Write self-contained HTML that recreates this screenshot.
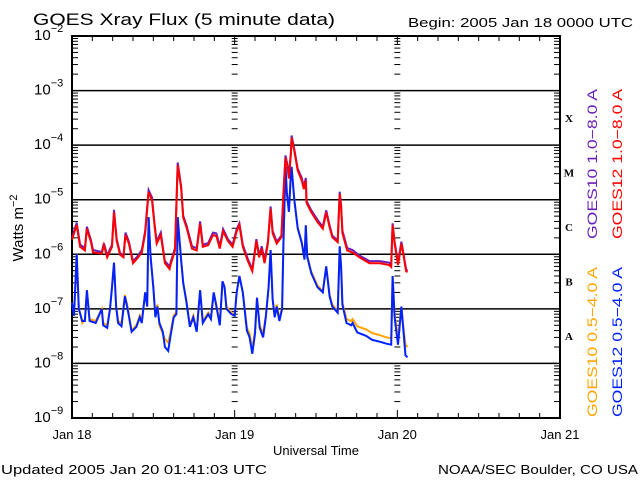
<!DOCTYPE html>
<html><head><meta charset="utf-8"><style>
html,body{margin:0;padding:0;background:#fff;}
svg{display:block;font-family:"Liberation Sans",sans-serif;}
</style></head><body>
<svg id="chart" width="640" height="480" viewBox="0 0 640 480">
<rect width="640" height="480" fill="#fff"/>
<text x="33" y="25" font-size="17" textLength="302" lengthAdjust="spacingAndGlyphs">GOES Xray Flux (5 minute data)</text>
<text x="408" y="27" font-size="13" textLength="225" lengthAdjust="spacingAndGlyphs">Begin:  2005 Jan 18 0000 UTC</text>
<text transform="translate(23,228) rotate(-90)" font-size="15" text-anchor="middle">Watts m<tspan dy="-6" font-size="11">−2</tspan></text>
<text x="316" y="455" font-size="13" text-anchor="middle">Universal Time</text>
<text x="1" y="474" font-size="13" textLength="266" lengthAdjust="spacingAndGlyphs">Updated 2005 Jan 20 01:41:03 UTC</text>
<text x="438" y="474" font-size="13" textLength="200" lengthAdjust="spacingAndGlyphs">NOAA/SEC Boulder, CO USA</text>
<g id="axes"></g>
<g id="series"></g>
<g id="labels"></g>
</svg>
<script>
const dayLabels = ["Jan 18","Jan 19","Jan 20","Jan 21"];
const decadeExps = [-2,-3,-4,-5,-6,-7,-8,-9];
const classLetters = ["X","M","C","B","A"];
const classExps = [-3.5,-4.5,-5.5,-6.5,-7.5];

const longHours = [0,0.7,1.2,1.9,2.2,2.8,3.1,4.4,4.7,5.2,5.9,6.2,6.6,7.1,7.6,7.9,8.4,9.0,9.6,10.3,10.8,11.3,11.8,12.2,12.5,13.1,13.7,14.4,14.6,15.2,15.6,16.1,16.4,16.9,17.7,18.4,18.9,19.3,20.1,20.8,21.3,21.8,22.3,23.0,23.7,24.3,24.7,25.2,25.9,26.6,27.2,27.6,28.0,28.4,28.9,29.3,29.6,30.2,30.9,31.2,31.5,31.8,32.0,32.3,32.4,32.8,33.3,33.9,34.2,34.5,34.6,35.3,36.2,37.0,37.5,38.0,38.4,39.2,39.5,39.7,39.9,40.6,41.4,42.4,43.9,45.4,46.8,47.1,47.3,47.6,48.1,48.6,48.9,49.3,49.5];
const goes12Long = [1.9e-6,3.5e-6,1.4e-6,1.2e-6,3e-6,1.7e-6,1.1e-6,1.05e-6,1.5e-6,0.9e-6,1.4e-6,6e-6,1.8e-6,1e-6,0.9e-6,2.3e-6,1.6e-6,0.7e-6,0.85e-6,1.1e-6,2.5e-6,1.4e-5,1e-5,3.2e-6,1.6e-6,2.3e-6,0.7e-6,0.55e-6,0.7e-6,1.2e-6,4.4e-5,1.7e-5,4.8e-6,3.2e-6,1.3e-6,1.2e-6,3.7e-6,1.4e-6,1.5e-6,2.3e-6,2.2e-6,1.3e-6,2.7e-6,1.8e-6,1.4e-6,2.7e-6,3.5e-6,1.4e-6,0.8e-6,0.5e-6,1.8e-6,0.9e-6,1.3e-6,0.7e-6,1.6e-6,7e-6,2.5e-6,1.6e-6,2.1e-6,1.3e-5,6e-5,4e-5,2.5e-5,7e-5,1.4e-4,8e-5,3.5e-5,2.3e-5,1.6e-5,2.3e-5,9e-6,6e-6,4e-6,3e-6,6e-6,3.2e-6,2.1e-6,1.7e-6,1.3e-5,7.5e-6,2.5e-6,1.2e-6,1.1e-6,0.9e-6,0.7e-6,0.7e-6,0.65e-6,0.6e-6,3.5e-6,1.6e-6,0.65e-6,1.6e-6,1e-6,0.5e-6,0.48e-6];
const goes10Long = [2.0e-6,3.8e-6,1.5e-6,1.3e-6,3.2e-6,1.8e-6,1.2e-6,1.1e-6,1.6e-6,0.95e-6,1.5e-6,6.5e-6,1.9e-6,1.05e-6,0.95e-6,2.5e-6,1.7e-6,0.75e-6,0.9e-6,1.2e-6,2.7e-6,1.5e-5,1.1e-5,3.4e-6,1.7e-6,2.5e-6,0.75e-6,0.6e-6,0.75e-6,1.3e-6,4.8e-5,1.8e-5,5.1e-6,3.4e-6,1.4e-6,1.3e-6,4e-6,1.5e-6,1.6e-6,2.5e-6,2.4e-6,1.4e-6,2.9e-6,1.9e-6,1.5e-6,2.9e-6,3.7e-6,1.5e-6,0.85e-6,0.53e-6,1.9e-6,0.95e-6,1.4e-6,0.75e-6,1.7e-6,7.5e-6,2.7e-6,1.7e-6,2.2e-6,1.4e-5,6.5e-5,4.3e-5,2.7e-5,7.5e-5,1.5e-4,8.5e-5,3.7e-5,2.5e-5,1.7e-5,2.5e-5,9.5e-6,6.4e-6,4.3e-6,3.2e-6,6.4e-6,3.4e-6,2.2e-6,1.8e-6,1.4e-5,8e-6,2.7e-6,1.3e-6,1.2e-6,0.95e-6,0.75e-6,0.75e-6,0.7e-6,0.65e-6,3.7e-6,1.7e-6,0.7e-6,1.7e-6,1.05e-6,0.53e-6,0.5e-6];

const shortHours = [0,0.3,0.7,1.0,1.5,1.9,2.2,2.6,3.5,4.4,4.6,5.2,5.6,5.9,6.2,6.5,6.8,7.3,7.8,8.2,8.8,9.5,10.0,10.3,10.8,11.1,11.3,11.6,12.0,12.3,12.6,12.9,13.4,13.7,14.2,14.5,15.0,15.4,15.6,16.1,16.4,16.9,17.4,17.9,18.4,18.9,19.3,20.1,20.5,20.9,21.3,21.8,22.2,22.5,22.8,23.5,24.0,24.3,24.7,25.2,25.8,26.2,26.6,27.0,27.3,27.7,28.2,28.6,29.0,29.3,29.6,29.9,30.2,30.6,31.0,31.2,31.5,31.7,32.0,32.3,32.4,32.8,33.3,33.9,34.3,34.5,34.7,35.3,36.2,37.0,37.5,38.0,38.4,39.2,39.5,39.7,39.9,40.5,41.2,41.4,42.1,43.4,44.3,45.4,46.4,47.1,47.3,47.6,48.1,48.6,48.9,49.2,49.5];
const goes12Short = [1.3e-7,7.5e-8,1e-6,1e-7,6e-8,6e-8,2.2e-7,6e-8,5.5e-8,1e-7,5e-8,4.5e-8,1e-7,2.5e-7,7e-7,1.1e-7,5.5e-8,4.8e-8,1.7e-7,1e-7,3.8e-8,4.7e-8,7e-8,5.5e-8,2e-7,1.1e-7,4.8e-6,9e-7,2.5e-7,7e-8,1.1e-7,5.5e-8,3.8e-8,2e-8,1.7e-8,3e-8,7e-8,8e-8,4.8e-6,8e-7,3e-7,1.3e-7,4.7e-8,7e-8,3.8e-8,2.2e-7,5.5e-8,8e-8,6.5e-8,2e-7,1.1e-7,5e-8,3.2e-7,2.5e-7,1e-7,8e-8,7.5e-8,2e-7,4e-7,2e-7,4e-8,3e-8,1.5e-8,3.5e-8,1.6e-7,4.5e-8,3e-8,7e-8,2.5e-7,1.2e-6,1.5e-7,7e-8,1.1e-7,6e-8,1e-7,1.8e-6,4e-5,1.3e-5,6e-6,3e-5,4e-5,1e-5,3e-6,1.6e-6,8e-7,3.4e-6,9e-7,4.5e-7,2.5e-7,2e-7,6e-7,1.7e-7,1.1e-7,8.5e-8,1.4e-6,6e-7,1.2e-7,5.5e-8,5e-8,5.5e-8,3.7e-8,3.2e-8,2.7e-8,2.5e-8,2.3e-8,2.2e-8,4e-7,7e-8,2.2e-8,1.1e-7,4e-8,1.4e-8,1.3e-8];
const goes10Short = [1.3e-7,8e-8,1e-6,1.05e-7,5.5e-8,6.5e-8,2.2e-7,6.5e-8,6e-8,1e-7,5.5e-8,5e-8,1e-7,2.5e-7,7e-7,1.2e-7,6e-8,5.5e-8,1.8e-7,1.1e-7,4e-8,5e-8,7.5e-8,6e-8,2e-7,1.2e-7,4.8e-6,9e-7,2.6e-7,7.5e-8,1.2e-7,5e-8,3.5e-8,2.8e-8,2.4e-8,3.5e-8,7.5e-8,9e-8,4.8e-6,8e-7,3e-7,1.4e-7,5e-8,7.5e-8,4e-8,2.2e-7,6e-8,8.5e-8,7e-8,2e-7,1.2e-7,5.5e-8,3.2e-7,2.6e-7,1.1e-7,8.5e-8,8e-8,2e-7,4e-7,2e-7,4.5e-8,3.5e-8,1.8e-8,4e-8,1.6e-7,5e-8,3.5e-8,7.5e-8,2.5e-7,1.2e-6,1.6e-7,7.5e-8,1.2e-7,6.5e-8,1.1e-7,1.8e-6,4e-5,1.3e-5,6e-6,3e-5,4e-5,1e-5,3.1e-6,1.7e-6,8.5e-7,3.4e-6,9.5e-7,4.8e-7,2.7e-7,2.1e-7,6e-7,1.8e-7,1.2e-7,9e-8,1.4e-6,6e-7,1.3e-7,6.5e-8,6e-8,6.5e-8,4.8e-8,4.2e-8,3.6e-8,3.3e-8,3e-8,2.9e-8,4e-7,8e-8,2.9e-8,1.1e-7,4.5e-8,2.2e-8,2e-8];

const NS="http://www.w3.org/2000/svg";
const X0=72,X1=560,Y0=36,Y1=418;
function xScale(h){return X0+(X1-X0)*h/72;}
function yScale(v){return Y0+(Y1-Y0)*(-2-Math.log10(v))/7;}
function el(tag,attrs,parent){const e=document.createElementNS(NS,tag);for(const k in attrs)e.setAttribute(k,attrs[k]);parent.appendChild(e);return e;}
const axes=document.getElementById('axes');
const series=document.getElementById('series');
const labels=document.getElementById('labels');

// frame
const frame=el('rect',{x:X0,y:Y0,width:X1-X0,height:Y1-Y0,fill:'none',stroke:'#000','stroke-width':2},axes);



// decade gridlines & labels
decadeExps.forEach((e,i)=>{
  const y=yScale(Math.pow(10,e));
  if(i>0&&i<decadeExps.length-1){
    const g=el('line',{x1:X0,x2:X1,y1:y,y2:y,stroke:'#000','stroke-width':1.5},axes);
    
    
  }
  const t=el('text',{x:34,y:y+4,'font-size':15},labels);
  
  
  t.textContent='10';
  const s=el('tspan',{dy:-8,'font-size':11},t);
  s.textContent='−'+(-e);
  // minor log ticks
  if(i<decadeExps.length-1){
    for(let m=2;m<=9;m++){
      const ym=yScale(m*Math.pow(10,e-1));
      el('line',{x1:X0,x2:X0+6,y1:ym,y2:ym,stroke:'#000'},axes);
      el('line',{x1:X1-6,x2:X1,y1:ym,y2:ym,stroke:'#000'},axes);
      [24,48].forEach(h=>{const xd=xScale(h);el('line',{x1:xd-3,x2:xd+3,y1:ym,y2:ym,stroke:'#000'},axes);});
    }
  }
});
// x ticks and labels
for(let h=0;h<=72;h+=3){
  const x=xScale(h);
  const len=(h%24===0)?8:5;
  el('line',{x1:x,x2:x,y1:Y1,y2:Y1-len,stroke:'#000'},axes);
  el('line',{x1:x,x2:x,y1:Y0,y2:Y0+len,stroke:'#000'},axes);
}
dayLabels.forEach((d,i)=>{
  const t=el('text',{x:xScale(i*24),y:439,'font-size':13,'text-anchor':'middle'},labels);
  
  
  t.textContent=d;
});
classLetters.forEach((c,i)=>{
  const t=el('text',{x:569,y:yScale(Math.pow(10,classExps[i]))+4,'font-size':11,'font-weight':'bold','font-family':'Liberation Serif, serif','text-anchor':'middle'},labels);
  
  
  t.textContent=c;
});
// legend
const leg=[["GOES10 1.0−8.0 A","#6a1fb8",597,164,"legend-goes10-long"],["GOES12 1.0−8.0 A","#ff0000",622,164,"legend-goes12-long"],["GOES10 0.5−4.0 A","#ffa500",597,342,"legend-goes10-short"],["GOES12 0.5−4.0 A","#0022ff",622,342,"legend-goes12-short"]];
leg.forEach(l=>{
  const t=el('text',{transform:`translate(${l[2]},${l[3]}) rotate(-90)`,'font-size':14,fill:l[1],'text-anchor':'middle',textLength:150,lengthAdjust:'spacingAndGlyphs'},labels);
  
  
  t.textContent=l[0];
});
// series
function drawLine(hours,vals,color,name,dy){
  const pts=hours.map((h,i)=>xScale(h).toFixed(1)+','+(yScale(vals[i])+dy).toFixed(1)).join(' ');
  const p=el('polyline',{points:pts,fill:'none',stroke:color,'stroke-width':2,'stroke-linejoin':'miter'},series);
  
  
}
drawLine(shortHours,goes10Short,'#ffa500','series-goes10-short',0);
drawLine(shortHours,goes12Short,'#0022ff','series-goes12-short',0);
drawLine(longHours,goes10Long,'#6a1fb8','series-goes10-long',0);
drawLine(longHours,goes12Long,'#ff0000','series-goes12-long',0.5);
</script>
</body></html>
